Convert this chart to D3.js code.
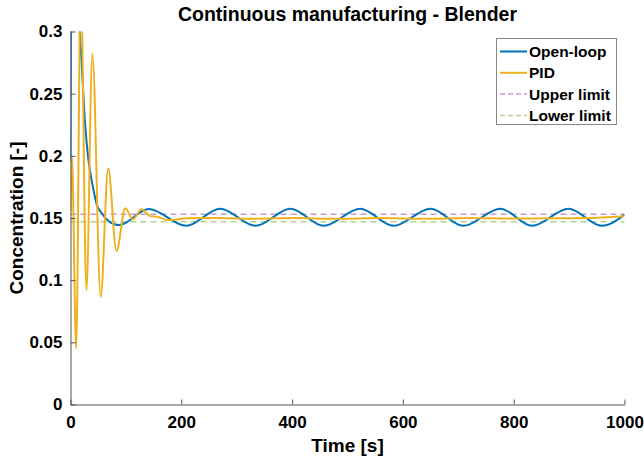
<!DOCTYPE html>
<html><head><meta charset="utf-8">
<script src="https://cdn.jsdelivr.net/npm/d3@7"></script>
<style>body{margin:0;background:#fff}svg{display:block}text{font-family:"Liberation Sans",Arial,sans-serif;font-weight:bold;fill:#000}</style>
</head><body>
<svg id="c" width="644" height="461"></svg>
<script>
// Data
const openLoopT = [0, 1.5, 8, 16, 20, 26, 32, 40, 48, 56, 68, 78, 88, 141, 209, 270, 334, 397, 457, 523, 583, 650, 709, 776, 833, 899, 959, 1000];
const openLoopV = [0.195, 0.42, 0.36, 0.305, 0.276, 0.228, 0.198, 0.176, 0.160, 0.154, 0.1478, 0.1452, 0.1443, 0.1573, 0.1437, 0.1575, 0.1437, 0.1575, 0.1437, 0.1575, 0.1437, 0.1575, 0.1437, 0.1575, 0.1437, 0.1575, 0.1437, 0.1525];
const pidT = [0, 2.5, 10.3, 18.5, 28.8, 39.5, 54.5, 68, 83, 99, 112.5, 128.5, 144, 156, 177, 210, 260, 320, 400, 480, 560, 640, 720, 800, 870, 930, 1000];
const pidV = [0.156, 0.200, 0.045, 0.34, 0.092, 0.2822, 0.0866, 0.1898, 0.1235, 0.1578, 0.1489, 0.157, 0.1515, 0.151, 0.1483, 0.1497, 0.1500, 0.1494, 0.1499, 0.1494, 0.1499, 0.1494, 0.1499, 0.1495, 0.1497, 0.1500, 0.1515];
const upperLimit = 0.153;
const lowerLimit = 0.147;
const xTicks = [0, 200, 400, 600, 800, 1000];
const yTicks = [0, 0.05, 0.1, 0.15, 0.2, 0.25, 0.3];
const legendLabels = ["Open-loop", "PID", "Upper limit", "Lower limit"];

const svg = d3.select("#c");
const L = 70.5, R = 624.5, T = 31.5, B = 404.5;
const x = d3.scaleLinear().domain([0, 1000]).range([L, R]);
const y = d3.scaleLinear().domain([0, 0.3]).range([B, T]);

svg.append("defs").append("clipPath").attr("id", "clip")
  .append("rect").attr("x", L).attr("y", T).attr("width", R - L).attr("height", B - T);

const gPlot = svg.append("g").attr("clip-path", "url(#clip)");
const line = d3.line().x(d => x(d[0])).y(d => y(d[1])).curve(d3.curveMonotoneX);

const colors = {open: "#0072BD", pid: "#EDB120", up: "#c59ad6", low: "#b2d48c"};

gPlot.append("path").datum([[0, upperLimit], [1000, upperLimit]])
  .attr("d", d3.line().x(d => x(d[0])).y(d => y(d[1])))
  .attr("fill", "none").attr("stroke", colors.up).attr("stroke-width", 1.5).attr("stroke-dasharray", "6,4");
gPlot.append("path").datum([[0, lowerLimit], [1000, lowerLimit]])
  .attr("d", d3.line().x(d => x(d[0])).y(d => y(d[1])))
  .attr("fill", "none").attr("stroke", colors.low).attr("stroke-width", 1.5).attr("stroke-dasharray", "6,4");

gPlot.append("path").datum(openLoopT.map((t, i) => [t, openLoopV[i]]))
  .attr("d", line).attr("fill", "none").attr("stroke", colors.open).attr("stroke-width", 2);
gPlot.append("path").datum(pidT.map((t, i) => [t, pidV[i]]))
  .attr("d", line).attr("fill", "none").attr("stroke", colors.pid).attr("stroke-width", 2);

// Axes
const xAxis = d3.axisBottom(x).tickValues(xTicks).tickSizeInner(-5).tickSizeOuter(0).tickPadding(11)
  .tickFormat(d3.format("d"));
const yAxis = d3.axisLeft(y).tickValues(yTicks).tickSizeInner(-5).tickSizeOuter(0).tickPadding(8)
  .tickFormat(d => d === 0 ? "0" : String(+d.toFixed(2)));
const gx = svg.append("g").attr("transform", `translate(0,${B})`).call(xAxis);
const gy = svg.append("g").attr("transform", `translate(${L},0)`).call(yAxis);
[gx, gy].forEach(g => {
  g.select(".domain").attr("stroke", "#555");
  g.selectAll(".tick line").attr("stroke", "#555");
  g.selectAll(".tick text").attr("font-size", 17).attr("font-family", "Liberation Sans, Arial, sans-serif").attr("font-weight", "bold").attr("fill", "#262626");
});

// Title and labels
svg.append("text").attr("x", (L + R) / 2).attr("y", 21).attr("text-anchor", "middle").attr("font-size", 19.5)
  .text("Continuous manufacturing - Blender");
svg.append("text").attr("x", (L + R) / 2).attr("y", 452).attr("text-anchor", "middle").attr("font-size", 19)
  .attr("fill", "#262626").text("Time [s]");
svg.append("text").attr("transform", `translate(23,${(T + B) / 2}) rotate(-90)`).attr("text-anchor", "middle")
  .attr("font-size", 19).attr("fill", "#262626").text("Concentration [-]");

// Legend
const lg = svg.append("g");
lg.append("rect").attr("x", 496.5).attr("y", 38.5).attr("width", 120).attr("height", 86)
  .attr("fill", "#fff").attr("stroke", "#888").attr("stroke-width", 1);
const legStyles = [
  {c: colors.open, dash: null},
  {c: colors.pid, dash: null},
  {c: colors.up, dash: "5,3"},
  {c: colors.low, dash: "5,3"}
];
legendLabels.forEach((lab, i) => {
  const yy = 51.5 + i * 21.3;
  lg.append("line").attr("x1", 500).attr("x2", 527).attr("y1", yy).attr("y2", yy)
    .attr("stroke", legStyles[i].c).attr("stroke-width", legStyles[i].dash ? 1.5 : 2)
    .attr("stroke-dasharray", legStyles[i].dash);
  lg.append("text").attr("x", 529).attr("y", yy).attr("dy", "0.36em").attr("font-size", 15.5).text(lab);
});
</script>
</body></html>
